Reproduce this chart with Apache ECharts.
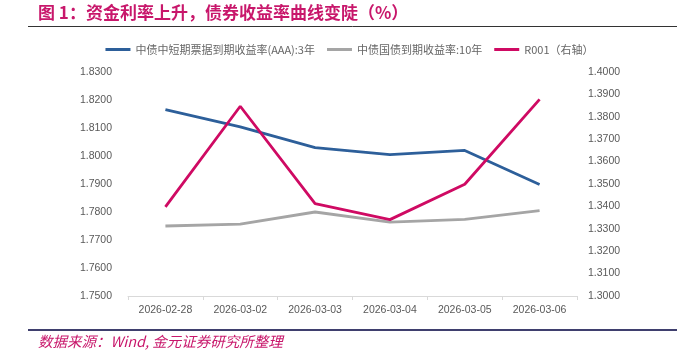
<!DOCTYPE html>
<html><head><meta charset="utf-8">
<script src="https://cdn.jsdelivr.net/npm/echarts@6/dist/echarts.min.js"></script>
<style>html,body{margin:0;padding:0;background:#fff}#c{width:699px;height:351px}</style>
</head><body><div id="c"></div>
<script>
const categories = ['2026-02-28','2026-03-02','2026-03-03','2026-03-04','2026-03-05','2026-03-06'];
const seriesNames = ['中债中短期票据到期收益率(AAA):3年','中债国债到期收益率:10年','R001（右轴）'];
const cpNote3y = [1.8166, 1.8104, 1.8030, 1.8005, 1.8020, 1.7898];
const govBond10y = [1.7750, 1.7757, 1.7800, 1.7764, 1.7774, 1.7805];
const r001 = [1.3398, 1.3847, 1.3412, 1.3341, 1.3499, 1.3878];
const titleText = '图 1：资金利率上升，债券收益率曲线变陡（%）';
const sourceText = '数据来源：Wind, 金元证券研究所整理';

const chart = echarts.init(document.getElementById('c'));
const axisLabel = {color:'#595959', fontSize:10.5, fontFamily:'Liberation Sans, Arial, sans-serif', formatter: v => v.toFixed(4)};
chart.setOption({
  animation:false,
  backgroundColor:'#fff',
  textStyle:{fontFamily:'"Noto Sans CJK SC", sans-serif'},
  graphic:[
    {type:'text', left:38, top:4, style:{text:titleText, fill:'#C8176B', font:'bold 17px "Noto Sans CJK SC"'}},
    {type:'line', shape:{x1:28,y1:26.5,x2:677,y2:26.5}, style:{stroke:'#333', lineWidth:1}},
    {type:'line', shape:{x1:28,y1:330,x2:677,y2:330}, style:{stroke:'#3F3F6E', lineWidth:2}},
    {type:'text', left:38, top:334, style:{text:sourceText, fill:'#C8176B', font:'italic 14.5px "Noto Sans CJK SC"'}}
  ],
  legend:{
    top:39, left:'center', itemWidth:25, itemHeight:3, itemGap:12,
    icon:'rect',
    textStyle:{color:'#666', fontSize:11, fontFamily:'"Noto Sans CJK SC", sans-serif'},
    data:seriesNames
  },
  grid:{left:128, right:122, top:72, bottom:55},
  xAxis:{
    type:'category', data:categories, boundaryGap:true,
    axisLine:{lineStyle:{color:'#D9D9D9'}},
    axisTick:{show:true, alignWithLabel:false, length:4, lineStyle:{color:'#D9D9D9'}},
    axisLabel:{color:'#595959', fontSize:10.5, margin:9, fontFamily:'Liberation Sans, Arial, sans-serif'}
  },
  yAxis:[
    {type:'value', min:1.75, max:1.83, interval:0.01, splitLine:{show:false}, axisLine:{show:false}, axisTick:{show:false}, axisLabel:Object.assign({margin:16}, axisLabel)},
    {type:'value', min:1.30, max:1.40, interval:0.01, splitLine:{show:false}, axisLine:{show:false}, axisTick:{show:false}, axisLabel:Object.assign({margin:11}, axisLabel)}
  ],
  series:[
    {name:seriesNames[0], type:'line', data:cpNote3y, yAxisIndex:0, symbol:'none', lineStyle:{color:'#2D5F9A', width:2.8}, itemStyle:{color:'#2D5F9A'}},
    {name:seriesNames[1], type:'line', data:govBond10y, yAxisIndex:0, symbol:'none', lineStyle:{color:'#A5A5A5', width:2.8}, itemStyle:{color:'#A5A5A5'}},
    {name:seriesNames[2], type:'line', data:r001, yAxisIndex:1, symbol:'none', lineStyle:{color:'#CF0A63', width:2.8}, itemStyle:{color:'#CF0A63'}}
  ]
});
</script></body></html>
